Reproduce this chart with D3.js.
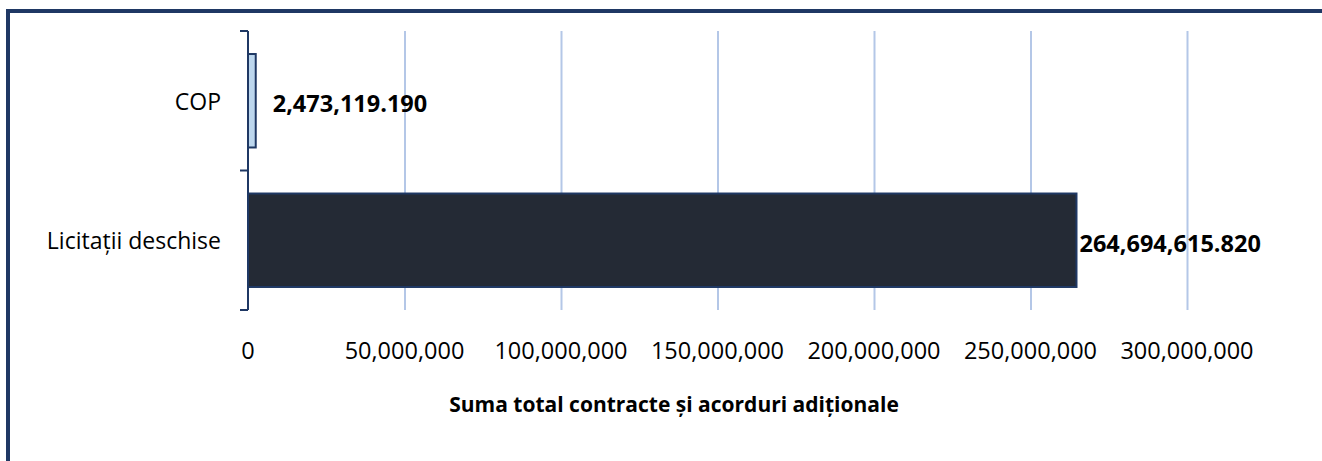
<!DOCTYPE html>
<html>
<head>
<meta charset="utf-8">
<script src="https://cdn.jsdelivr.net/npm/d3@7"></script>
<style>
  body { margin: 0; background: #fff; }
  svg { display: block; font-family: "Open Sans", sans-serif; }
  .grid line { stroke: #b4c7e7; stroke-width: 2; }
  .grid path { display: none; }
</style>
</head>
<body>
<div id="chart"></div>
<script>
var categories = ['COP', 'Licitații deschise'];
var values = [2473119.190, 264694615.820];
var valueLabels = ['2,473,119.190', '264,694,615.820'];
var tickValues = [0, 50000000, 100000000, 150000000, 200000000, 250000000, 300000000];
var axisTitle = 'Suma total contracte și acorduri adiționale';

var width = 1322,
    height = 461;
var plotLeft = 248, plotRight = 1187, plotTop = 31, plotBottom = 310;

var svg = d3.select('#chart').append('svg')
    .attr('width', width)
    .attr('height', height);

// outer frame (top + left only visible)
svg.append('path')
    .attr('d', 'M8,461 L8,11 L1322,11')
    .attr('fill', 'none')
    .attr('stroke', '#1f3864')
    .attr('stroke-width', 4);

var xScale = d3.scaleLinear()
    .domain([0, 300000000])
    .range([plotLeft, plotRight]);

var yScale = d3.scaleBand()
    .domain(categories)
    .range([plotTop, plotBottom])
    .paddingInner(0.33)
    .paddingOuter(0.165);

// gridlines
svg.append('g')
    .attr('class', 'grid')
    .attr('transform', 'translate(0,' + plotTop + ')')
    .call(d3.axisBottom(xScale)
        .tickValues(tickValues.slice(1))
        .tickSize(plotBottom - plotTop)
        .tickFormat(''));

// x tick labels
svg.append('g')
    .selectAll('text')
    .data(tickValues)
    .enter()
    .append('text')
    .attr('x', function (d) { return xScale(d); })
    .attr('y', 353)
    .attr('text-anchor', 'middle')
    .attr('dominant-baseline', 'middle')
    .attr('font-size', 23.5)
    .attr('fill', '#000')
    .text(function (d) { return d3.format(',')(d); });

// bars
var colors = ['#bdd7ee', '#242a35'];
svg.append('g')
    .selectAll('rect')
    .data(values)
    .enter()
    .append('rect')
    .attr('x', xScale(0))
    .attr('y', function (d, i) { return yScale(categories[i]); })
    .attr('width', function (d) { return xScale(d) - xScale(0); })
    .attr('height', yScale.bandwidth())
    .attr('fill', function (d, i) { return colors[i]; })
    .attr('stroke', '#1f3864')
    .attr('stroke-width', 2);

// y axis line + ticks
var yTicks = [plotTop, (plotTop + plotBottom) / 2, plotBottom];
svg.append('line')
    .attr('x1', plotLeft).attr('x2', plotLeft)
    .attr('y1', plotTop).attr('y2', plotBottom)
    .attr('stroke', '#1f3864')
    .attr('stroke-width', 2);
svg.append('g')
    .selectAll('line')
    .data(yTicks)
    .enter()
    .append('line')
    .attr('x1', plotLeft - 8).attr('x2', plotLeft)
    .attr('y1', function (d) { return d; })
    .attr('y2', function (d) { return d; })
    .attr('stroke', '#1f3864')
    .attr('stroke-width', 2);

// category labels
svg.append('g')
    .selectAll('text')
    .data(categories)
    .enter()
    .append('text')
    .attr('x', 221)
    .attr('y', function (d) { return yScale(d) + yScale.bandwidth() / 2 + 3; })
    .attr('text-anchor', 'end')
    .attr('dominant-baseline', 'middle')
    .attr('font-size', 23)
    .attr('fill', '#000')
    .text(function (d) { return d; });

// value labels
svg.append('g')
    .selectAll('text')
    .data(values)
    .enter()
    .append('text')
    .attr('x', function (d) { return xScale(d) + (d > 100000000 ? 3 : 17); })
    .attr('y', function (d, i) { return yScale(categories[i]) + yScale.bandwidth() / 2 + 5; })
    .attr('dominant-baseline', 'middle')
    .attr('font-size', 23.5)
    .attr('font-weight', 'bold')
    .attr('fill', '#000')
    .text(function (d, i) { return valueLabels[i]; });

// axis title
svg.append('text')
    .attr('x', 674)
    .attr('y', 406)
    .attr('text-anchor', 'middle')
    .attr('dominant-baseline', 'middle')
    .attr('font-size', 21)
    .attr('font-weight', 'bold')
    .attr('fill', '#000')
    .text(axisTitle);
</script>
</body>
</html>
